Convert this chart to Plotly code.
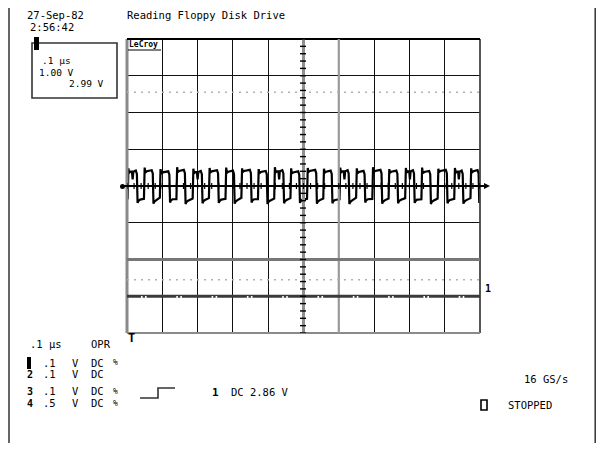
import plotly.graph_objects as go

# ---------------- data (read from the screen capture) ----------------
# time base 0.1 us/div (10 div = 1000 ns), channel 1 at 0.1 V/div
rise_ns = [3, 49, 94, 141, 187, 233, 280, 325, 372, 418, 464, 511, 557, 603, 650, 696, 742, 789, 835, 881, 928, 974]
fall_ns = [29, 74, 121, 165, 213, 259, 304, 352, 397, 444, 489, 537, 581, 629, 674, 722, 767, 814, 860, 907, 952, 997]
high_v = [0.039, 0.040, 0.037, 0.041, 0.038, 0.040, 0.039, 0.041, 0.038, 0.040, 0.037,
          0.041, 0.039, 0.040, 0.038, 0.041, 0.039, 0.040, 0.038, 0.041, 0.039, 0.040]
low_v = [-0.037, -0.039, -0.036, -0.040, -0.038, -0.037, -0.039, -0.036, -0.040, -0.038, -0.037,
         -0.039, -0.038, -0.040, -0.036, -0.039, -0.038, -0.037, -0.040, -0.038, -0.039, -0.037]
over_v = [0.048, 0.050, 0.046, 0.051, 0.047, 0.049, 0.050, 0.048, 0.046, 0.051, 0.048,
          0.049, 0.047, 0.050, 0.048, 0.051, 0.046, 0.049, 0.050, 0.047, 0.049, 0.048]
under_v = [-0.046, -0.048, -0.045, -0.049, -0.047, -0.046, -0.048, -0.045, -0.049, -0.047, -0.046,
           -0.048, -0.047, -0.049, -0.045, -0.048, -0.047, -0.046, -0.049, -0.047, -0.048, -0.046]
notch_idx = [0, 4, 9, 13, 17, 20]
notch_v = 0.018
cursor_v = [0.255, -0.255]

header_date = "27-Sep-82"
header_time = "2:56:42"
title_text = "Reading Floppy Disk Drive"
box_lines = [".1 \u00b5s", "1.00 V", "2.99 V"]
chan_nums = ["1", "2", "3", "4"]
chan_scale = [".1", ".1", ".1", ".5"]
chan_coupling = ["DC", "DC", "DC", "DC"]
trig_text = "DC 2.86 V"
rate_text = "16 GS/s"
status_text = "STOPPED"

# ---------------- build waveform from the read transitions ----------------
t = [0]
v = [low_v[0]]
for i, (r, f) in enumerate(zip(rise_ns, fall_ns)):
    t += [r - 1, r + 1, r + 3, r + 7]
    v += [low_v[i] + 0.004, over_v[i], high_v[i] - 0.003, high_v[i]]
    if i in notch_idx:
        m = (r + f) / 2
        t += [m - 2, m, m + 2]
        v += [high_v[i], notch_v, high_v[i]]
    t += [f - 4, f - 1, f + 1, f + 3, f + 8]
    v += [high_v[i] + 0.003, high_v[i] - 0.006, under_v[i], low_v[i] - 0.004, low_v[i]]

# ---------------- geometry helpers (screen pixels -> paper) ----------------
# the page has an 8 px body margin, so the figure starts at (8, 8) on screen;
# keep the figure small enough that the page never overflows the window
OX, OY = 8, 8
FIG_W, FIG_H = 604 - 2 * OX, 451 - 2 * OY
L, T, W, H = 127, 39, 353, 294  # grid box on screen


def px(x):
    return (x - L) / W


def py(y):
    return (T + H - y) / H


fig = go.Figure()
fig.add_trace(go.Scatter(x=t, y=v, mode="lines",
                         line=dict(color="black", width=2.2), hoverinfo="skip"))

shapes = []


def pline(x0, y0, x1, y1, color="black", width=1.5, dash=None):
    d = dict(type="line", xref="paper", yref="paper",
             x0=px(x0), y0=py(y0), x1=px(x1), y1=py(y1),
             line=dict(color=color, width=width))
    if dash:
        d["line"]["dash"] = dash
    shapes.append(d)


def prect(x0, y0, x1, y1, fill=None, color="black", width=1.5):
    shapes.append(dict(type="rect", xref="paper", yref="paper",
                       x0=px(x0), y0=py(y0), x1=px(x1), y1=py(y1),
                       fillcolor=fill if fill else "rgba(0,0,0,0)",
                       line=dict(color=color, width=width)))


# outer frame (left and right)
pline(9, OY, 9, OY + FIG_H, "#333", 1.5)
pline(OX + FIG_W - 0.8, OY, OX + FIG_W - 0.8, OY + FIG_H, "#333", 1.5)

# grid borders / special lines
pline(127, 39, 127, 333, "#8a8a8a", 3)
pline(480, 39, 480, 333, "#444", 1.8)
pline(127, 39, 480, 39, "black", 2)
pline(127, 333, 480, 333, "#8a8a8a", 2.2)
for xv, col, wd in [(500, "#8f8f8f", 3), (600, "#9a9a9a", 2.2)]:
    shapes.append(dict(type="line", xref="x", yref="paper", x0=xv, x1=xv, y0=0, y1=1,
                       line=dict(color=col, width=wd)))
for yv, col, wd in [(-0.2, "#777", 3), (-0.3, "#3a3a3a", 3.2)]:
    shapes.append(dict(type="line", xref="paper", yref="y", x0=0, x1=1, y0=yv, y1=yv,
                       line=dict(color=col, width=wd)))
# cursor dotted lines
for yv in cursor_v:
    shapes.append(dict(type="line", xref="paper", yref="y", x0=0, x1=1, y0=yv, y1=yv,
                       line=dict(color="#b0b0b0", width=1.6, dash="2px,5px")))
# white specks on the -3 div line
for k in range(10):
    xs = 127 + k * 35.3 + 14
    for dx in (0, 4):
        prect(xs + dx, 296, xs + dx + 1.6, 298, fill="white", color="white", width=0)
# ticks on the centre axes
for k in range(-20, 21):
    yv = k * 0.02
    shapes.append(dict(type="line", xref="paper", yref="y", x0=px(300), x1=px(306),
                       y0=yv, y1=yv, line=dict(color="black", width=1.4)))
for k in range(0, 51):
    xv = k * 20
    shapes.append(dict(type="line", xref="x", yref="paper", x0=xv, x1=xv,
                       y0=py(183), y1=py(189), line=dict(color="black", width=1.2)))
# trace zero baseline extending past the grid
pline(122, 186, 486, 186, "black", 2)
shapes.append(dict(type="circle", xref="paper", yref="paper",
                   x0=px(120), x1=px(125), y0=py(184), y1=py(189),
                   fillcolor="black", line=dict(color="black", width=0)))
shapes.append(dict(type="path", xref="paper", yref="paper",
                   path=f"M {px(484)} {py(183)} L {px(490)} {py(186)} L {px(484)} {py(189)} Z",
                   fillcolor="black", line=dict(color="black", width=0)))

# LeCroy underline
pline(128, 50, 161, 50, "black", 1.2)
# top-left info box
prect(32, 43, 117, 98, color="#333", width=1.6)
prect(34, 37, 39, 50, fill="black", color="black", width=0)
# channel 1 inverse marker
prect(27, 357, 31, 369, fill="black", color="black", width=0)
# trigger step symbol
shapes.append(dict(type="path", xref="paper", yref="paper",
                   path=f"M {px(140)} {py(398)} L {px(158)} {py(398)} L {px(158)} {py(388)} L {px(175)} {py(388)}",
                   line=dict(color="#333", width=1.6)))
# stopped square
prect(481, 400, 487, 410, color="black", width=1.6)

annotations = []
FONT = "DejaVu Sans Mono"


def txt(x, y, s, size=10.5, bold=False, anchor="left", color="black"):
    annotations.append(dict(xref="paper", yref="paper", x=px(x), y=py(y),
                            text=f"<b>{s}</b>" if bold else s, showarrow=False,
                            xanchor=anchor, yanchor="middle",
                            font=dict(family=FONT, size=size, color=color)))


txt(25, 15, header_date)
txt(28, 27, header_time)
txt(125, 15, title_text)
txt(127, 44, "LeCroy", size=8, bold=True)
txt(40, 61, box_lines[0], size=9.5)
txt(37, 72, box_lines[1], size=9.5)
txt(67, 83, box_lines[2], size=9.5)
txt(28, 344, ".1 \u00b5s")
txt(89, 344, "OPR")
txt(126, 338, "T", size=12, bold=True)
row_y = [363, 374, 391, 403]
for i in range(4):
    if i > 0:
        txt(25, row_y[i], chan_nums[i], size=10, bold=True)
    txt(41, row_y[i], chan_scale[i])
    txt(70, row_y[i], "V")
    txt(89, row_y[i], chan_coupling[i])
    if i != 1:
        txt(111, row_y[i], "%", size=8)
txt(210, 392, "1", size=11, bold=True)
txt(229, 392, trig_text)
txt(522, 379, rate_text)
txt(506, 405, status_text)
txt(483, 288, "1", size=10, bold=True)

fig.update_layout(
    width=FIG_W, height=FIG_H, autosize=False,
    margin=dict(l=L - OX, r=FIG_W - (L - OX) - W, t=T - OY, b=FIG_H - (T - OY) - H, pad=0),
    paper_bgcolor="white", plot_bgcolor="white",
    showlegend=False,
    xaxis=dict(range=[0, 1000], dtick=100, tick0=0, showgrid=True, gridcolor="#111",
               gridwidth=1.3, zeroline=False, showticklabels=False, ticks="", showline=False),
    yaxis=dict(range=[-0.4, 0.4], dtick=0.1, tick0=0, showgrid=True, gridcolor="#111",
               gridwidth=1.3, zeroline=False, showticklabels=False, ticks="", showline=False),
    shapes=shapes, annotations=annotations,
)
fig.write_html("out.html")
